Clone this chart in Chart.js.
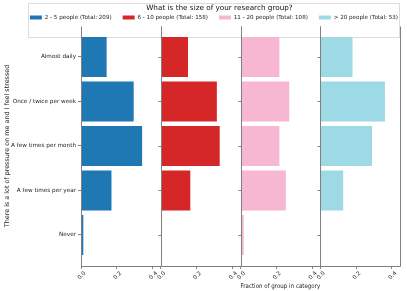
<!DOCTYPE html>
<html>
<head>
<meta charset="utf-8">
<script src="https://cdn.jsdelivr.net/npm/chart.js@4"></script>
<style>
    html, body { margin: 0; padding: 0; background: #fff; }
    #wrap { width: 407px; height: 291px; position: relative; }
</style>
</head>
<body>
<div id="wrap"><canvas id="pressureChart"></canvas></div>
<script>
// answers on the y axis
const categories = ['Almost daily', 'Once / twice per week', 'A few times per month', 'A few times per year', 'Never'];

// research group sizes
const groupNames = ['2 - 5 people (Total: 209)', '6 - 10 people (Total: 158)', '11 - 20 people (Total: 108)', '> 20 people (Total: 53)'];
const groupColors = ['#1f77b4', '#d62728', '#f7b6d2', '#9edae5'];

// fraction of each group per answer
const small = [0.143, 0.294, 0.341, 0.170, 0.013];
const medium = [0.152, 0.313, 0.329, 0.165, 0.007];
const large = [0.217, 0.272, 0.217, 0.253, 0.018];
const huge = [0.180, 0.361, 0.289, 0.128, 0.0];

const xTicks = [0, 0.2, 0.4];
const xMax = 0.445;

const panelIds = ['x1', 'x2', 'x3', 'x4'];
Chart.defaults.font.family = 'DejaVu Sans';
Chart.defaults.color = '#222';

const SPINE = '#808080';

// box around each panel (matplotlib spines) + y tick marks of panels 2-4
const panelFrame = {
    id: 'panelFrame',
    afterDatasetsDraw(chart) {
        const { ctx, chartArea } = chart;
        const y = chart.scales.y;
        ctx.save();
        ctx.strokeStyle = SPINE;
        ctx.lineWidth = 1;
        const top = Math.round(chartArea.top) + 0.5;
        const bottom = Math.round(chartArea.bottom) + 0.5;
        panelIds.forEach((id, i) => {
            const s = chart.scales[id];
            const l = Math.round(s.left) + 0.5;
            const r = Math.round(s.right) + 0.5;
            ctx.beginPath();
            ctx.moveTo(l, top);
            ctx.lineTo(l, bottom);
            ctx.lineTo(r, bottom);
            ctx.lineTo(r, top);
            if (i > 0) {
                y.ticks.forEach(t => {
                    const py = Math.round(y.getPixelForValue(t.value)) + 0.5;
                    ctx.moveTo(l - 3, py);
                    ctx.lineTo(l, py);
                });
            }
            ctx.stroke();
        });
        ctx.restore();
    }
};

// nudge legend to the right and draw its light frame
const legendFrame = {
    id: 'legendFrame',
    afterUpdate(chart) {
        const lg = chart.legend;
        lg.left += 9;
        lg.right += 9;
        lg.adjustHitBoxes();
    },
    beforeDraw(chart) {
        const lg = chart.legend;
        if (!lg || !lg.legendHitBoxes.length) return;
        const boxes = lg.legendHitBoxes;
        const left = Math.min(...boxes.map(b => b.left)) - 2;
        const right = Math.max(...boxes.map(b => b.left + b.width)) + 1;
        const bottom = Math.max(...boxes.map(b => b.top + b.height)) + 2;
        const top = lg.top + 1;
        const { ctx } = chart;
        ctx.save();
        ctx.strokeStyle = '#dddddd';
        ctx.lineWidth = 1;
        ctx.strokeRect(Math.round(left) + 0.5, Math.round(top) + 0.5, Math.round(right - left), Math.round(bottom - top));
        ctx.restore();
    }
};

function panelAxis(i) {
    return {
        type: 'linear',
        position: 'bottom',
        stack: 'panels',
        stackWeight: 1,
        min: 0,
        max: xMax,
        offset: false,
        afterBuildTicks: s => { s.ticks = xTicks.map(v => ({ value: v })); },
        ticks: {
            callback: v => v.toFixed(1),
            minRotation: 45,
            maxRotation: 45,
            autoSkip: false,
            labelOffset: 4,
            padding: 1,
            font: { size: 5.7 }
        },
        grid: { drawOnChartArea: false, tickLength: 3, color: SPINE },
        border: { display: false },
        title: { display: i === 2, text: 'Fraction of group in category', font: { size: 6.4 }, padding: 0 }
    };
}

const series = [small, medium, large, huge];
const datasets = series.map((vals, i) => ({
    label: groupNames[i],
    data: vals.map((v, k) => ({ x: v, y: k })),
    xAxisID: panelIds[i],
    yAxisID: 'y',
    backgroundColor: groupColors[i],
    borderWidth: 0,
    grouped: false,
    barPercentage: 0.9,
    categoryPercentage: 1.0
}));

const scales = {
    y: {
        type: 'linear',
        reverse: true,
        offset: false,
        min: -0.695,
        max: 4.695,
        afterBuildTicks: s => { s.ticks = categories.map((c, i) => ({ value: i })); },
        afterFit: s => { s.width = 79; },
        ticks: { callback: v => categories[v], font: { size: 5.7 }, padding: 2, autoSkip: false },
        grid: { drawOnChartArea: false, offset: false, tickLength: 3, color: SPINE },
        border: { display: false },
        title: { display: true, text: 'There is a lot of pressure on me and I feel stressed', font: { size: 6.4 }, padding: 2 }
    }
};
panelIds.forEach((id, i) => { scales[id] = panelAxis(i); });

new Chart(document.getElementById('pressureChart'), {
    type: 'bar',
    data: { datasets },
    options: {
        indexAxis: 'y',
        responsive: true,
        maintainAspectRatio: false,
        animation: false,
        layout: { padding: { left: 2, right: 7, top: 2, bottom: 5 } },
        plugins: {
            legend: {
                position: 'top',
                align: 'end',
                maxHeight: 24,
                title: {
                    display: true,
                    text: 'What is the size of your research group?',
                    font: { size: 7.25 },
                    color: '#111',
                    padding: { top: 2, bottom: -9 }
                },
                labels: { boxWidth: 12, boxHeight: 4, font: { size: 5.6 }, padding: 11 }
            },
            tooltip: { enabled: false }
        },
        scales
    },
    plugins: [panelFrame, legendFrame]
});
</script>
</body>
</html>
